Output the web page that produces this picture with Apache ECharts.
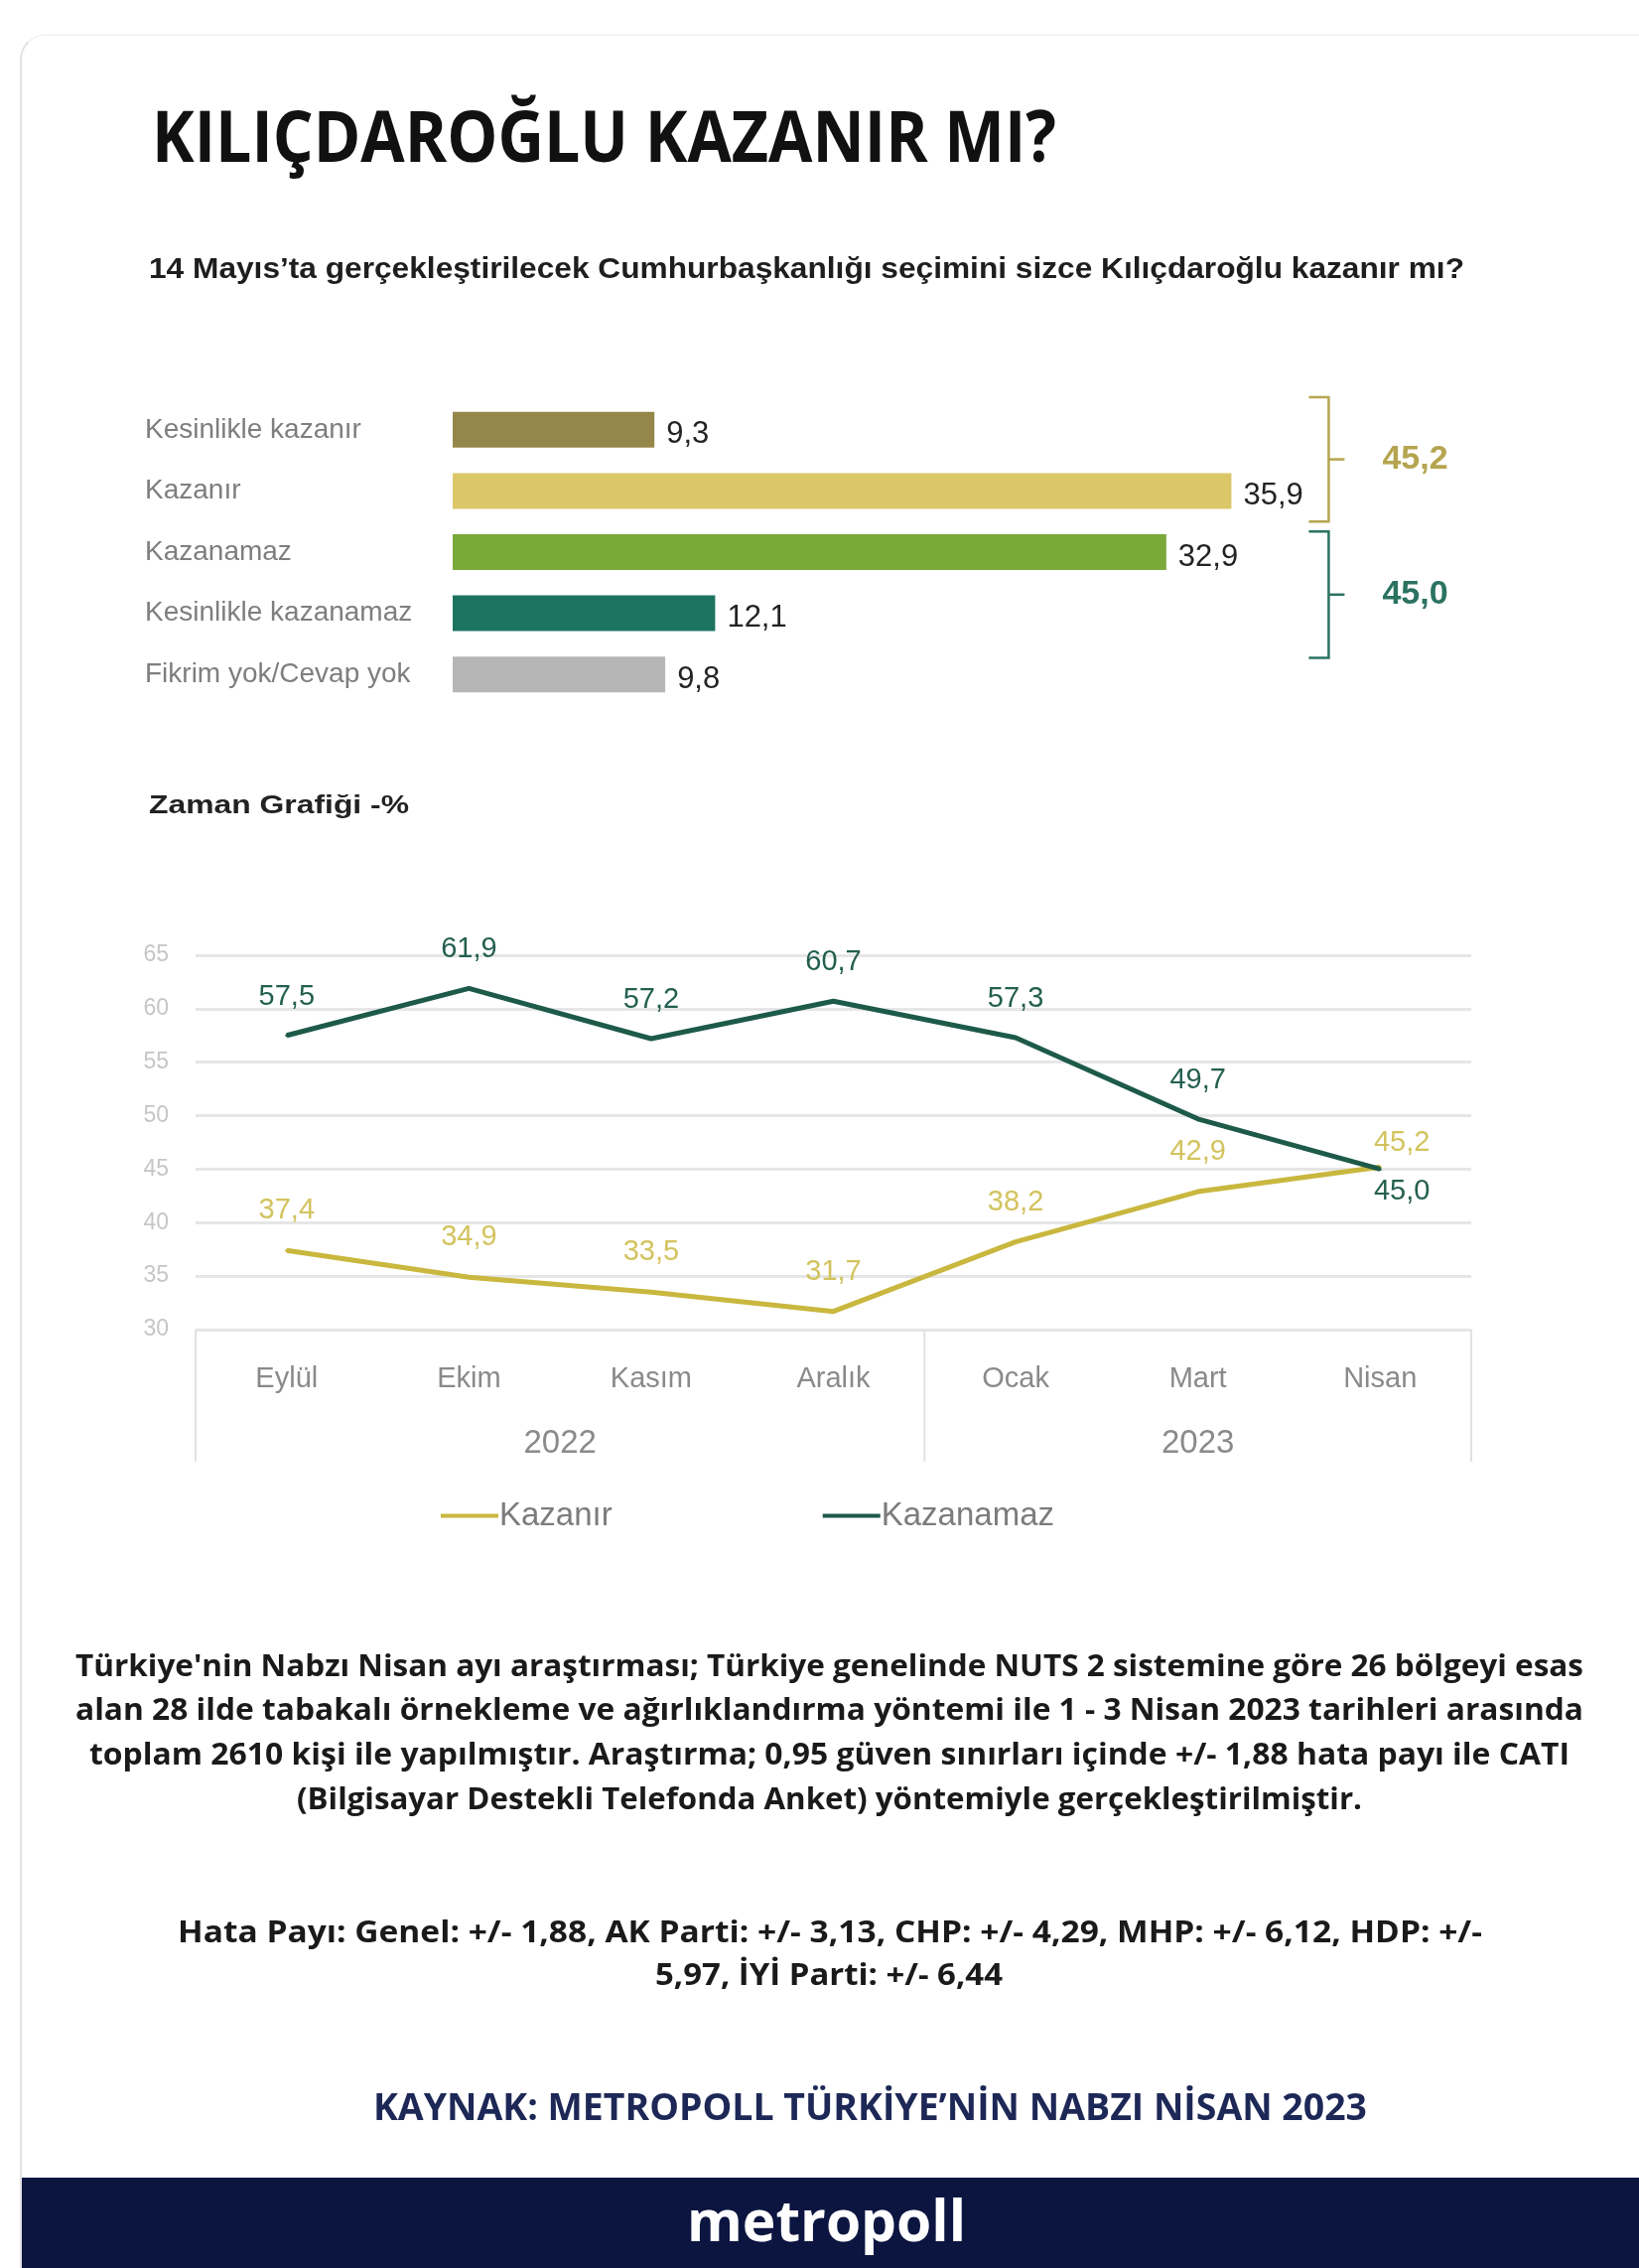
<!DOCTYPE html>
<html>
<head>
<meta charset="utf-8">
<script src="https://cdn.jsdelivr.net/npm/echarts@6/dist/echarts.min.js"></script>
<style>
    html, body {
        margin: 0;
        padding: 0;
        background: #ffffff;
    }
    .page {
        position: relative;
        width: 1651px;
        height: 2284px;
        overflow: hidden;
        background: #ffffff;
    }
    .card {
        position: absolute;
        left: 20px;
        top: 34px;
        width: 1700px;
        height: 2400px;
        border-left: 2px solid #e2e2e2;
        border-top: 2px solid #f3f3f3;
        border-radius: 26px 0 0 0;
    }
    .footer {
        position: absolute;
        left: 22px;
        right: 0;
        top: 2193px;
        bottom: 0;
        background: #0c1540;
    }
    #chart {
        position: absolute;
        left: 0;
        top: 0;
        width: 1651px;
        height: 2284px;
    }
    .txt {
        position: absolute;
        white-space: nowrap;
        transform-origin: 0 50%;
        z-index: 2;
    }
</style>
</head>
<body>
<div class="page" id="page">
    <div class="card"></div>
    <div class="footer"></div>
    <div id="chart"></div>
</div>

<script>
// horizontal bars
const barCategories = ['Kesinlikle kazanır', 'Kazanır', 'Kazanamaz', 'Kesinlikle kazanamaz', 'Fikrim yok/Cevap yok'];
const barValues = [9.3, 35.9, 32.9, 12.1, 9.8];

// time chart
const months = ['Eylül', 'Ekim', 'Kasım', 'Aralık', 'Ocak', 'Mart', 'Nisan'];
const years = ['2022', '2023'];
const monthsPerYear = [4, 3];
const kazanir = [37.4, 34.9, 33.5, 31.7, 38.2, 42.9, 45.2];
const kazanamaz = [57.5, 61.9, 57.2, 60.7, 57.3, 49.7, 45.0];
const lineNames = ['Kazanır', 'Kazanamaz'];

const barColors = ['#958749', '#dcc768', '#7aa93a', '#1c7460', '#b6b6b6'];
const sumColors = ['#b5a550', '#2b7361'];
const font = "'Liberation Sans', Arial, sans-serif";

const fmt = (v) => Number(v).toFixed(1).replace('.', ',');

// page texts: [text, left, right, centerY, css]
const para = "font: 700 31px 'Open Sans'; color:#1a1a1a;";
const texts = [
    ['KILIÇDAROĞLU KAZANIR MI?', 153, 1064, 135, "font: 700 72px 'Open Sans'; color:#111;"],
    ['14 Mayıs’ta gerçekleştirilecek Cumhurbaşkanlığı seçimini sizce Kılıçdaroğlu kazanır mı?', 150, 1475, 270, "font: 700 30px 'Liberation Sans'; color:#1e1e1e;"],
    ['Zaman Grafiği -%', 150, 412, 810, "font: 700 26px 'Liberation Sans'; color:#222;"],
    ['Türkiye\'nin Nabzı Nisan ayı araştırması; Türkiye genelinde NUTS 2 sistemine göre 26 bölgeyi esas', 76, 1595, 1676, para],
    ['alan 28 ilde tabakalı örnekleme ve ağırlıklandırma yöntemi ile 1 - 3 Nisan 2023 tarihleri arasında', 76, 1595, 1720, para],
    ['toplam 2610 kişi ile yapılmıştır. Araştırma; 0,95 güven sınırları içinde +/- 1,88 hata payı ile CATI', 90, 1581, 1765, para],
    ['(Bilgisayar Destekli Telefonda Anket) yöntemiyle gerçekleştirilmiştir.', 299, 1372, 1810, para],
    ['Hata Payı: Genel: +/- 1,88, AK Parti: +/- 3,13, CHP: +/- 4,29, MHP: +/- 6,12, HDP: +/-', 179, 1493, 1944, para],
    ['5,97, İYİ Parti: +/- 6,44', 660, 1010, 1987, para],
    ['KAYNAK: METROPOLL TÜRKİYE’NİN NABZI NİSAN 2023', 376, 1377, 2120, "font: 700 37px 'Open Sans'; color:#1d2857;"],
    ['metropoll', 692, 973, 2235, "font: 700 58px 'Open Sans'; color:#ffffff;"],
];

const page = document.getElementById('page');
texts.forEach(([text, left, right, cy, css]) => {
    const el = document.createElement('div');
    el.className = 'txt';
    el.style.cssText = css;
    el.style.lineHeight = '1';
    el.textContent = text;
    page.appendChild(el);
    const rect = el.getBoundingClientRect();
    el.style.left = left + 'px';
    el.style.top = (cy - rect.height / 2) + 'px';
    el.style.transform = `scaleX(${(right - left) / rect.width})`;
});

const chart = echarts.init(document.getElementById('chart'));

const option = {
    animation: false,
    textStyle: { fontFamily: font },
    grid: [
        { left: 456, top: 402, width: 874, height: 308 },
        { left: 197, top: 962, width: 1285, height: 377 },
    ],
    legend: {
        data: lineNames,
        left: 444,
        top: 1510,
        padding: 0,
        icon: 'rect',
        itemWidth: 58,
        itemHeight: 4,
        itemGap: 212,
        textStyle: { color: '#7c7c7c', fontSize: 33, fontFamily: font, padding: [0, 0, 0, -4] },
    },
    xAxis: [
        { gridIndex: 0, type: 'value', min: 0, max: 40, show: false },
        {
            gridIndex: 1,
            type: 'category',
            data: months,
            boundaryGap: true,
            axisLine: { show: false },
            axisTick: { show: false },
            axisLabel: { color: '#8a8a8a', fontSize: 29, margin: 35 },
        },
    ],
    yAxis: [
        {
            gridIndex: 0,
            type: 'category',
            data: barCategories,
            inverse: true,
            axisLine: { show: false },
            axisTick: { show: false },
            axisLabel: { color: '#7e7e7e', fontSize: 28, margin: 310, align: 'left' },
        },
        {
            gridIndex: 1,
            type: 'value',
            min: 30,
            max: 65,
            interval: 5,
            axisLine: { show: false },
            axisTick: { show: false },
            axisLabel: { color: '#c6c6c6', fontSize: 23, margin: 27 },
            splitLine: { lineStyle: { color: '#e6e6e6', width: 3 } },
        },
    ],
    series: [
        {
            type: 'bar',
            xAxisIndex: 0,
            yAxisIndex: 0,
            barWidth: 36,
            data: barValues.map((v, i) => ({ value: v, itemStyle: { color: barColors[i] } })),
            label: {
                show: true,
                position: 'right',
                distance: 12,
                offset: [0, 5],
                color: '#232323',
                fontSize: 31,
                formatter: (p) => fmt(p.value),
            },
        },
        {
            name: lineNames[0],
            type: 'line',
            xAxisIndex: 1,
            yAxisIndex: 1,
            data: kazanir.map((v, i) => (i === kazanir.length - 1
                ? { value: v, label: { distance: 8, offset: [22, 0] } }
                : v)),
            color: '#c9b73f',
            symbol: 'circle',
            symbolSize: 3,
            lineStyle: { width: 5 },
            label: {
                show: true,
                position: 'top',
                distance: 24,
                color: '#d3c35e',
                fontSize: 29,
                formatter: (p) => fmt(p.value),
            },
            z: 3,
        },
        {
            name: lineNames[1],
            type: 'line',
            xAxisIndex: 1,
            yAxisIndex: 1,
            data: kazanamaz.map((v, i) => (i === kazanamaz.length - 1
                ? { value: v, label: { position: 'bottom', distance: 7, offset: [22, 0] } }
                : v)),
            color: '#1d5a49',
            symbol: 'circle',
            symbolSize: 3,
            lineStyle: { width: 5 },
            label: {
                show: true,
                position: 'top',
                distance: 23,
                color: '#235f4f',
                fontSize: 29,
                formatter: (p) => fmt(p.value),
            },
            z: 4,
        },
    ],
};

chart.setOption(option);

// decorations placed from the axes
const graphic = [];

// year groups under the month axis
const mx = months.map((m, i) => chart.convertToPixel({ xAxisIndex: 1 }, i));
const band = mx[1] - mx[0];
const axisBottom = chart.convertToPixel({ yAxisIndex: 1 }, 30);
let start = 0;
const edges = [mx[0] - band / 2];
years.forEach((y, k) => {
    const end = start + monthsPerYear[k] - 1;
    graphic.push({
        type: 'text',
        x: (mx[start] + mx[end]) / 2,
        y: axisBottom + 115,
        style: { text: y, fill: '#8a8a8a', font: `33px ${font}`, align: 'center', verticalAlign: 'middle' },
    });
    edges.push(mx[end] + band / 2);
    start = end + 1;
});
edges.forEach((x) => {
    graphic.push({
        type: 'line',
        shape: { x1: x, y1: axisBottom, x2: x, y2: axisBottom + 133 },
        style: { stroke: '#e2e2e2', lineWidth: 2 },
    });
});

// braces with group sums
const by = barCategories.map((c, i) => chart.convertToPixel({ yAxisIndex: 0 }, i));
const rowH = by[1] - by[0];
const bx = chart.convertToPixel({ xAxisIndex: 0 }, Math.max(...barValues)) + 78;
const groups = [[0, 1, -2, 0], [2, 3, 10, 14]];
groups.forEach(([a, b, dTop, dBottom], k) => {
    const top = by[a] - rowH / 2 + dTop;
    const bottom = by[b] + rowH / 2 + dBottom;
    const mid = (top + bottom) / 2;
    const sum = barValues[a] + barValues[b];
    graphic.push({
        type: 'polyline',
        shape: { points: [[bx, top], [bx + 20, top], [bx + 20, bottom], [bx, bottom]] },
        style: { stroke: sumColors[k], lineWidth: 2.5, fill: null },
    });
    graphic.push({
        type: 'line',
        shape: { x1: bx + 20, y1: mid, x2: bx + 36, y2: mid },
        style: { stroke: sumColors[k], lineWidth: 2.5 },
    });
    graphic.push({
        type: 'text',
        x: bx + 74,
        y: mid,
        style: { text: fmt(sum), fill: sumColors[k], font: `bold 34px ${font}`, align: 'left', verticalAlign: 'middle' },
    });
});

chart.setOption({ graphic });
</script>
</body>
</html>
